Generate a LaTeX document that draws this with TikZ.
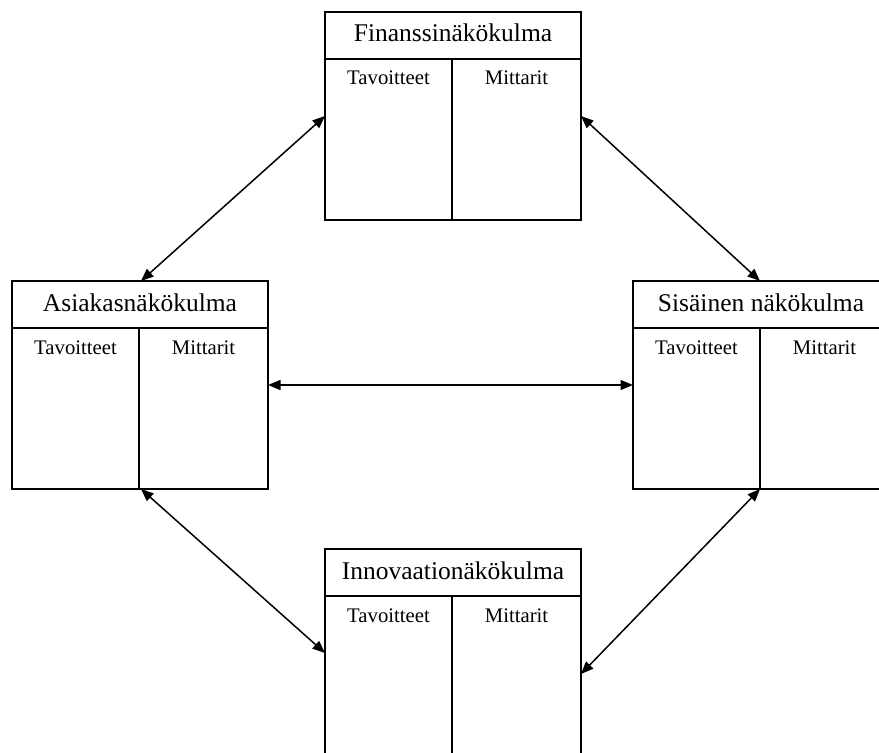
\documentclass[tikz,border=0pt]{standalone}
\usepackage{fontspec}
\setmainfont{Liberation Serif}
\usetikzlibrary{arrows.meta}

\tikzset{
  frame/.style={draw, line width=2bp, minimum width=256bp, minimum height=208bp,
                inner sep=0pt, outer sep=0pt},
  rule/.style={line width=2bp},
  headtext/.style={anchor=base, inner sep=0pt, font=\fontsize{25.6}{30}\selectfont},
  coltext/.style={anchor=base, inner sep=0pt, font=\fontsize{20.8}{25}\selectfont},
  link/.style={line width=1.5bp,
               {Triangle[length=12.5bp,width=10bp]}-{Triangle[length=12.5bp,width=10bp]}},
}

% #1 name, #2 left edge, #3 top edge, #4 heading
\newcommand\perspective[4]{%
  \node[frame] (#1) at (#2+128,#3+104) {};
  \draw[rule] ([yshift=-47bp]#1.north west) -- ([yshift=-47bp]#1.north east);
  \draw[rule] ([xshift=127bp,yshift=-47bp]#1.north west) -- ([xshift=127bp]#1.south west);
  \coordinate (#1-dt) at ([xshift=127bp]#1.north west);
  \coordinate (#1-db) at ([xshift=127bp]#1.south west);
  \node[headtext] (#1-head) at (#2+128,#3+30) {#4};
  \node[coltext] (#1-goal) at (#2+63.5,#3+73) {Tavoitteet};
  \node[coltext] (#1-meas) at (#2+191.5,#3+73) {Mittarit};
}

\begin{document}
\begin{tikzpicture}[x=1bp,y=-1bp]
  \useasboundingbox (0,0) rectangle (879,753);
  \clip (0,0) rectangle (879,753);

  \perspective{fin}{325}{12}{Finanssinäkökulma}
  \perspective{asi}{12}{281}{Asiakasnäkökulma}
  \perspective{sis}{633}{281}{Sisäinen näkökulma}
  \perspective{inn}{325}{549}{Innovaationäkökulma}

  \draw[link] (fin.west) -- ([xshift=2bp]asi-dt);
  \draw[link] (fin.east) -- (sis-dt);
  \draw[link] (asi.east) -- (sis.west);
  \draw[link] ([xshift=2bp]asi-db) -- (inn.west);
  \draw[link] (sis-db) -- ([yshift=-21bp]inn.east);
\end{tikzpicture}
\end{document}
